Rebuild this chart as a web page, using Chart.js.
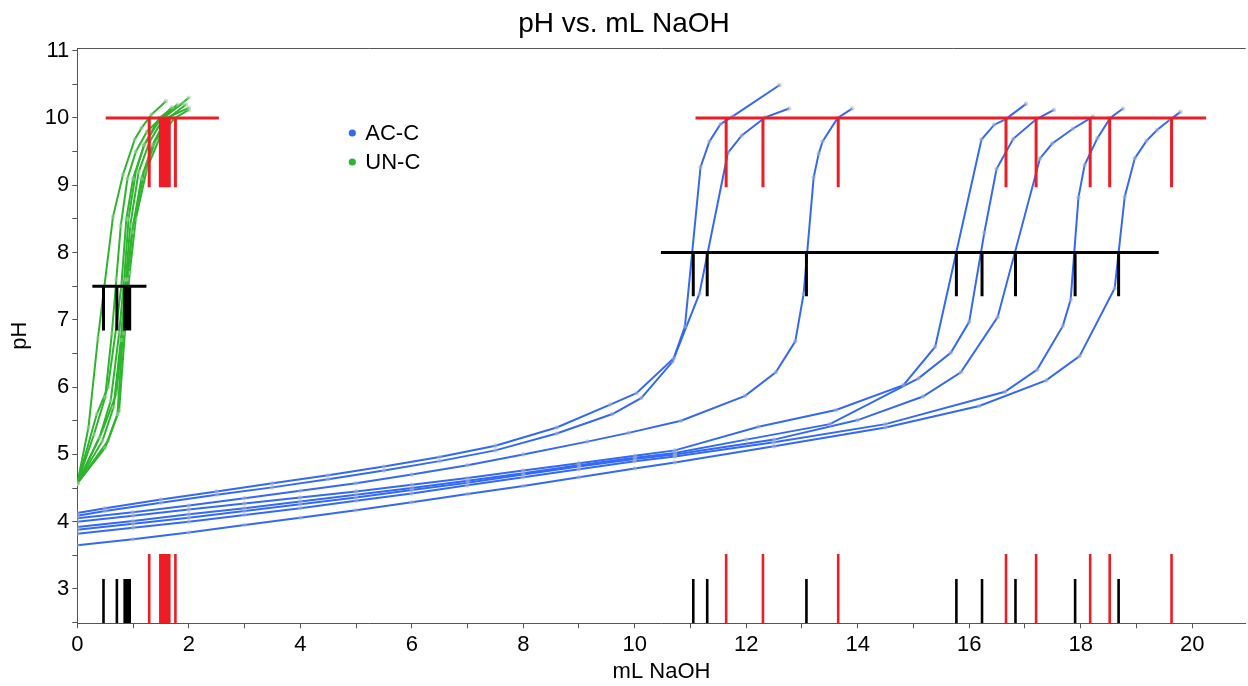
<!DOCTYPE html>
<html>
<head>
<meta charset="utf-8">
<script src="https://cdn.jsdelivr.net/npm/chart.js@4.4.1/dist/chart.umd.min.js"></script>
<style>
  html, body { margin: 0; padding: 0; background: #fff; }
  canvas { display: block; }
</style>
</head>
<body>
<canvas id="c" width="1248" height="686"></canvas>
<script>
// ---------- DATA ----------
const seriesNames = ['AC-C', 'UN-C'];

// AC-C titration curves: [mL NaOH, pH]
const ac1 = [[0,4.13],[0.5,4.20],[1.5,4.33],[2.5,4.45],[3.5,4.57],[4.5,4.69],[5.5,4.82],[6.5,4.96],[7.5,5.13],[8.6,5.40],[9.56,5.74],[10.03,5.91],[10.70,6.43],[10.90,6.90],[11.18,9.27],[11.34,9.65],[11.54,9.91],[11.75,10.02],[12.60,10.49]];
const ac2 = [[0,4.09],[0.5,4.16],[1.5,4.28],[2.5,4.40],[3.5,4.51],[4.5,4.63],[5.5,4.76],[6.5,4.90],[7.5,5.06],[8.6,5.31],[9.6,5.60],[10.12,5.84],[10.68,6.38],[11.16,7.39],[11.67,9.48],[11.92,9.74],[12.34,10.01],[12.77,10.14]];
const ac3 = [[0,4.05],[1,4.14],[2,4.24],[3,4.35],[4,4.46],[5,4.57],[6,4.70],[7,4.84],[8,5.00],[9.15,5.19],[9.89,5.32],[10.83,5.50],[11.98,5.87],[12.53,6.22],[12.88,6.68],[13.03,7.39],[13.21,9.12],[13.30,9.47],[13.37,9.65],[13.64,10.0],[13.90,10.14]];
const ac4 = [[0,4.00],[1,4.09],[2,4.18],[3,4.27],[4,4.36],[5,4.45],[6,4.55],[7,4.65],[8,4.76],[9,4.87],[10,4.98],[10.72,5.06],[12.22,5.41],[13.61,5.66],[14.82,6.03],[15.39,6.60],[16.22,9.68],[16.45,9.90],[16.65,9.98],[17.02,10.21]];
const ac5 = [[0,3.92],[1,4.01],[2,4.11],[3,4.20],[4,4.30],[5,4.40],[6,4.50],[7,4.61],[8,4.72],[9,4.84],[10,4.95],[10.72,5.02],[12.0,5.22],[13.5,5.45],[15.09,6.13],[15.67,6.51],[16.0,6.97],[16.27,8.29],[16.49,9.24],[16.79,9.69],[17.20,9.98],[17.52,10.12]];
const ac6 = [[0,3.88],[1,3.97],[2,4.06],[3,4.16],[4,4.26],[5,4.36],[6,4.47],[7,4.58],[8,4.70],[9,4.82],[10,4.93],[10.72,5.00],[12.5,5.22],[14.0,5.51],[15.17,5.86],[15.85,6.22],[16.51,7.04],[17.27,9.40],[17.49,9.62],[17.86,9.84],[18.22,10.02]];
const ac7 = [[0,3.82],[1,3.91],[2,4.00],[3,4.10],[4,4.20],[5,4.31],[6,4.42],[7,4.54],[8,4.66],[9,4.78],[10,4.90],[10.72,4.97],[12.5,5.18],[14.5,5.45],[16.64,5.93],[17.22,6.26],[17.68,6.91],[17.82,7.30],[17.96,8.82],[18.07,9.30],[18.30,9.70],[18.53,10.0],[18.76,10.14]];
const ac8 = [[0,3.65],[1,3.74],[2,3.84],[3,3.95],[4,4.06],[5,4.17],[6,4.29],[7,4.41],[8,4.53],[9,4.66],[10,4.79],[10.72,4.88],[12.5,5.12],[14.5,5.40],[16.18,5.72],[17.38,6.10],[17.98,6.46],[18.61,7.47],[18.79,8.83],[18.97,9.40],[19.18,9.66],[19.37,9.82],[19.61,9.98],[19.79,10.09]];

// UN-C titration curves
const un1 = [[0,4.57],[0.2,5.40],[0.37,6.73],[0.64,8.53],[0.82,9.16],[1.03,9.68],[1.15,9.85],[1.33,10.05],[1.59,10.25]];
const un2 = [[0,4.57],[0.3,5.30],[0.5,5.85],[0.62,6.80],[0.70,7.60],[0.78,8.40],[0.90,9.10],[1.05,9.50],[1.25,9.80],[1.50,10.0],[1.70,10.16]];
const un3 = [[0,4.57],[0.35,5.60],[0.55,6.00],[0.70,6.90],[0.79,7.50],[0.88,8.50],[1.00,9.10],[1.20,9.60],[1.47,10.0],[1.80,10.20]];
const un4 = [[0,4.57],[0.40,5.25],[0.60,5.80],[0.75,6.80],[0.84,7.60],[0.92,8.50],[1.05,9.20],[1.20,9.60],[1.50,10.0],[1.90,10.22]];
const un5 = [[0,4.57],[0.45,5.20],[0.65,5.70],[0.78,6.70],[0.87,7.60],[0.95,8.40],[1.10,9.20],[1.30,9.65],[1.55,10.0],[2.00,10.30]];
const un6 = [[0,4.57],[0.50,5.10],[0.72,5.60],[0.82,6.80],[0.89,7.60],[0.98,8.30],[1.15,9.10],[1.35,9.60],[1.60,10.0],[2.00,10.15]];
const un7 = [[0,4.57],[0.45,5.35],[0.70,5.90],[0.84,7.00],[0.91,7.70],[1.00,8.40],[1.20,9.20],[1.40,9.65],[1.64,10.0],[1.95,10.20]];
const un8 = [[0,4.57],[0.55,5.20],[0.75,5.65],[0.87,7.00],[0.94,7.70],[1.05,8.50],[1.25,9.25],[1.50,9.75],[1.75,10.0],[2.00,10.12]];

// Endpoint markers (x positions where each curve crosses the reference pH)
const acRedX   = [11.64, 12.30, 13.65, 16.66, 17.20, 18.17, 18.52, 19.63];
const acBlackX = [11.05, 11.30, 13.08, 15.77, 16.23, 16.83, 17.90, 18.68];
const unRedX   = [1.29, 1.49, 1.53, 1.57, 1.61, 1.65, 1.76];
const unBlackX = [0.47, 0.71, 0.85, 0.88, 0.91, 0.94];
const acRedSpan = [11.09, 20.25];
const acBlackSpan = [10.47, 19.40];
const unRedSpan = [0.51, 2.54];
const unBlackSpan = [0.27, 1.24];
const acRedLevel = 10, acRedBottom = 8.97;
const acBlackLevel = 8, acBlackBottom = 7.35;
const unRedLevel = 10, unRedBottom = 8.97;
const unBlackLevel = 7.5, unBlackBottom = 6.84;
const rugRedTop = 3.52, rugBlackTop = 3.15;

// Axes
const xRange = [0, 20.96];
const yRange = [2.49, 11.04];
const xTicks = [0,1,2,3,4,5,6,7,8,9,10,11,12,13,14,15,16,17,18,19,20];
const yTicks = [2.5,3,3.5,4,4.5,5,5.5,6,6.5,7,7.5,8,8.5,9,9.5,10,10.5,11];

// ---------- STYLE ----------
const BLUE = '#3369f4', GREEN = '#2db52d', RED = '#ee1c25', BLACK = '#000000';
const FONT = "'Liberation Sans', Arial, Helvetica, sans-serif";
Chart.defaults.font.family = FONT;
Chart.defaults.color = '#000';

const toXY = arr => arr.map(p => ({x: p[0], y: p[1]}));

function markerData(span, level, bottom, xs) {
  const d = [{x: span[0], y: level}, {x: span[1], y: level}];
  xs.forEach(v => { d.push({x: v, y: null}); d.push({x: v, y: level}); d.push({x: v, y: bottom}); });
  return d;
}
function rugData(xs, top) {
  const d = [];
  xs.forEach((v, i) => { if (i) d.push({x: v, y: null}); d.push({x: v, y: yRange[0]}); d.push({x: v, y: top}); });
  return d;
}
function markerSet(data, color, width) {
  return { data, borderColor: color, backgroundColor: color, borderWidth: width, pointRadius: 0,
           borderCapStyle: 'butt', spanGaps: false, tension: 0, order: 0 };
}
function curveSet(label, arr, color, dot) {
  return { label, data: toXY(arr), borderColor: color, backgroundColor: color, borderWidth: 2,
           pointRadius: 2.3, pointBackgroundColor: dot, pointBorderWidth: 0, pointHoverRadius: 0,
           tension: 0, order: 2 };
}

const datasets = [
  markerSet(markerData(acRedSpan, acRedLevel, acRedBottom, acRedX), RED, 3),
  markerSet(markerData(acBlackSpan, acBlackLevel, acBlackBottom, acBlackX), BLACK, 3),
  markerSet(markerData(unRedSpan, unRedLevel, unRedBottom, unRedX), RED, 3),
  markerSet(markerData(unBlackSpan, unBlackLevel, unBlackBottom, unBlackX), BLACK, 3),
  markerSet(rugData(acRedX.concat(unRedX), rugRedTop), RED, 2.6),
  markerSet(rugData(acBlackX.concat(unBlackX), rugBlackTop), BLACK, 2.6),
];
[ac1, ac2, ac3, ac4, ac5, ac6, ac7, ac8].forEach(a => datasets.push(curveSet(seriesNames[0], a, BLUE, 'rgba(170,180,205,0.55)')));
[un1, un2, un3, un4, un5, un6, un7, un8].forEach(a => datasets.push(curveSet(seriesNames[1], a, GREEN, 'rgba(160,205,160,0.55)')));

const frameAndLegend = {
  id: 'frameAndLegend',
  afterDraw(chart) {
    const {ctx, chartArea} = chart;
    ctx.save();
    ctx.strokeStyle = '#555';
    ctx.lineWidth = 1;
    ctx.beginPath();
    ctx.moveTo(chartArea.left, chartArea.top + 0.5);
    ctx.lineTo(chartArea.right, chartArea.top + 0.5);
    ctx.stroke();
    const items = [[seriesNames[0], BLUE], [seriesNames[1], GREEN]];
    const lx = chartArea.left + 275, ly = chartArea.top + 85, gap = 29;
    ctx.font = '22px ' + FONT;
    ctx.textBaseline = 'middle';
    ctx.textAlign = 'left';
    items.forEach((it, i) => {
      ctx.fillStyle = it[1];
      ctx.beginPath();
      ctx.arc(lx, ly + i * gap, 3.6, 0, Math.PI * 2);
      ctx.fill();
      ctx.fillStyle = '#000';
      ctx.fillText(it[0], lx + 13, ly + i * gap + 1);
    });
    ctx.restore();
  }
};

new Chart(document.getElementById('c'), {
  type: 'line',
  data: { datasets },
  plugins: [frameAndLegend],
  options: {
    responsive: false,
    animation: false,
    devicePixelRatio: 1,
    parsing: true,
    layout: { padding: 0 },
    plugins: {
      legend: { display: false },
      tooltip: { enabled: false },
      title: { display: true, text: 'pH vs. mL NaOH', color: '#000',
               font: { size: 28, weight: 'normal', family: FONT },
               padding: { top: 7, bottom: 7.4 } }
    },
    scales: {
      x: {
        type: 'linear', min: xRange[0], max: xRange[1],
        afterBuildTicks: s => { s.ticks = xTicks.map(v => ({ value: v })); },
        afterFit: s => { s.height = 62.7; },
        ticks: { autoSkip: false, maxRotation: 0, padding: 3, color: '#000', font: { size: 22 },
                 callback: v => (v % 2 === 0 ? String(v) : '') },
        grid: { drawOnChartArea: false, drawTicks: true, tickLength: 5, color: '#555' },
        border: { color: '#555', width: 1 },
        title: { display: true, text: 'mL NaOH', color: '#000', font: { size: 22 }, padding: { top: 4, bottom: 1 } }
      },
      y: {
        type: 'linear', min: yRange[0], max: yRange[1],
        afterBuildTicks: s => { s.ticks = yTicks.map(v => ({ value: v })); },
        afterFit: s => { s.width = 77.3; },
        ticks: { autoSkip: false, padding: 3, color: '#000', font: { size: 22 },
                 callback: v => (Number.isInteger(v) ? String(v) : '') },
        grid: { drawOnChartArea: false, drawTicks: true, tickLength: 5, color: '#555' },
        border: { color: '#555', width: 1 },
        title: { display: true, text: 'pH', color: '#000', font: { size: 22 }, padding: { top: 7, bottom: 4 } }
      }
    }
  }
});
</script>
</body>
</html>
